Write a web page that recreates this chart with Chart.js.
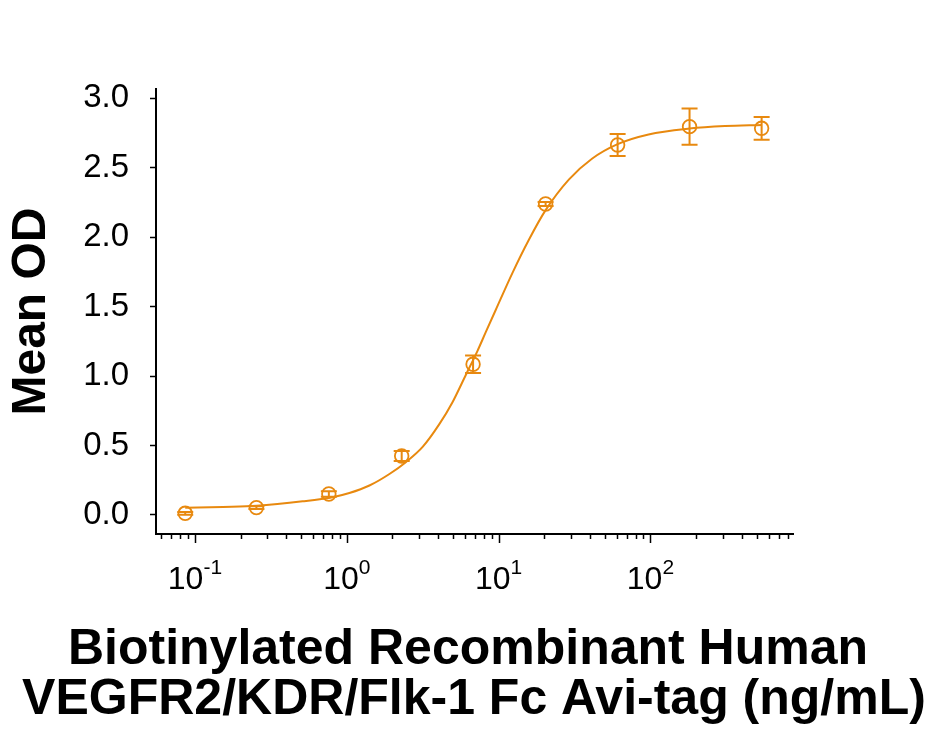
<!DOCTYPE html>
<html>
<head>
<meta charset="utf-8">
<script src="https://cdn.jsdelivr.net/npm/chart.js@4/dist/chart.umd.min.js"></script>
<style>
  html, body { margin: 0; padding: 0; background: #fff; }
  #wrap { width: 928px; height: 738px; }
</style>
</head>
<body>
<div id="wrap"><canvas id="chartData"></canvas></div>
<script>
// measured points (ng/mL vs mean OD)
const concentrations = [0.0863, 0.254, 0.762, 2.30, 6.79, 20.4, 60.8, 181, 540];
const meanOD = [0.012, 0.053, 0.151, 0.425, 1.085, 2.239, 2.664, 2.796, 2.784];
const errOD = [0.01, 0.01, 0.02, 0.036, 0.063, 0.015, 0.079, 0.13, 0.082];

// fitted curve
const curveX = [0.0863, 0.153, 0.255, 0.512, 0.806, 1.04, 1.41, 1.91, 2.46, 3.16, 4.06, 4.97, 6.08, 7.25, 8.23, 9.57, 12.3, 15.8, 20.4, 29.0, 41.2, 60.8, 97.2, 181, 310, 540];
const curveY = [0.052, 0.058, 0.066, 0.098, 0.128, 0.158, 0.212, 0.295, 0.382, 0.49, 0.652, 0.812, 1.008, 1.180, 1.316, 1.476, 1.74, 1.98, 2.195, 2.415, 2.565, 2.670, 2.740, 2.782, 2.800, 2.808];

const yTicks = [0, 0.5, 1.0, 1.5, 2.0, 2.5, 3.0];
const xMajor = [0.1, 1, 10, 100];
const xExponents = ['-1', '0', '1', '2'];
const xMinor = [0.06, 0.07, 0.08, 0.09, 0.2, 0.3, 0.4, 0.5, 0.6, 0.7, 0.8, 0.9,
    2, 3, 4, 5, 6, 7, 8, 9, 20, 30, 40, 50, 60, 70, 80, 90, 200, 300, 400, 500, 600, 700, 800];

const xTitle = ['Biotinylated Recombinant Human', 'VEGFR2/KDR/Flk-1 Fc Avi-tag (ng/mL)'];
const yTitle = 'Mean OD';

const orange = '#E8890F';
const fontFamily = '"Liberation Sans", Arial, sans-serif';
Chart.defaults.font.family = fontFamily;
Chart.defaults.color = '#000';

// x axis ticks + 10^n labels, error bars and the bottom title
const extras = {
    id: 'extras',
    afterDatasetsDraw(chart) {
        const ctx = chart.ctx;
        const xs = chart.scales.x;
        const ys = chart.scales.y;
        const base = chart.chartArea.bottom;

        ctx.save();
        ctx.strokeStyle = orange;
        ctx.lineWidth = 2;
        for (let i = 0; i < concentrations.length; i++) {
            let px = xs.getPixelForValue(concentrations[i]);
            let top = ys.getPixelForValue(meanOD[i] + errOD[i]);
            let bot = ys.getPixelForValue(meanOD[i] - errOD[i]);
            ctx.beginPath();
            ctx.moveTo(px, top); ctx.lineTo(px, bot);
            ctx.moveTo(px - 8, top); ctx.lineTo(px + 8, top);
            ctx.moveTo(px - 8, bot); ctx.lineTo(px + 8, bot);
            ctx.stroke();
        }
        ctx.restore();

        ctx.save();
        ctx.strokeStyle = '#000';
        ctx.lineWidth = 1.5;
        ctx.beginPath();
        xMinor.forEach(v => {
            let px = Math.round(xs.getPixelForValue(v)) + 0.5;
            ctx.moveTo(px, base); ctx.lineTo(px, base + 5);
        });
        xMajor.forEach(v => {
            let px = Math.round(xs.getPixelForValue(v)) + 0.5;
            ctx.moveTo(px, base); ctx.lineTo(px, base + 9);
        });
        ctx.stroke();

        ctx.fillStyle = '#000';
        ctx.textBaseline = 'alphabetic';
        ctx.textAlign = 'left';
        xMajor.forEach((v, i) => {
            let px = xs.getPixelForValue(v);
            ctx.font = '32px ' + fontFamily;
            let w1 = ctx.measureText('10').width;
            ctx.font = '21px ' + fontFamily;
            let w2 = ctx.measureText(xExponents[i]).width;
            let left = px - (w1 + w2) / 2;
            ctx.font = '32px ' + fontFamily;
            ctx.fillText('10', left, 589);
            ctx.font = '21px ' + fontFamily;
            ctx.fillText(xExponents[i], left + w1, 574);
        });

        // axis title under the x axis
        ctx.font = 'bold 50px ' + fontFamily;
        ctx.textAlign = 'center';
        ctx.textBaseline = 'middle';
        ctx.fillText(xTitle[0], 468, 650);
        ctx.fillText(xTitle[1], 474, 700);
        ctx.restore();
    }
};

new Chart(document.getElementById('chartData'), {
    type: 'scatter',
    data: {
        datasets: [{
            type: 'line',
            data: curveX.map((x, i) => ({ x: x, y: curveY[i] })),
            borderColor: orange,
            borderWidth: 2,
            pointRadius: 0,
            cubicInterpolationMode: 'monotone',
            fill: false
        }, {
            data: concentrations.map((x, i) => ({ x: x, y: meanOD[i] })),
            showLine: false,
            pointStyle: 'circle',
            pointRadius: 6.8,
            borderWidth: 1.8,
            borderColor: orange,
            backgroundColor: 'rgba(0,0,0,0)'
        }]
    },
    options: {
        responsive: true,
        maintainAspectRatio: false,
        animation: false,
        layout: { padding: { top: 89, right: 135, left: 0, bottom: 113 } },
        plugins: {
            legend: { display: false },
            tooltip: { enabled: false },
            title: { display: false }
        },
        scales: {
            x: {
                type: 'logarithmic',
                min: 0.0554,
                max: 869,
                grid: { display: false },
                border: { display: true, color: '#000', width: 2 },
                ticks: { display: false },
                afterFit: (scale) => { scale.height = 91; }
            },
            y: {
                min: -0.137,
                max: 3.067,
                afterBuildTicks: (scale) => { scale.ticks = yTicks.map(v => ({ value: v })); },
                grid: { drawOnChartArea: false, drawTicks: true, tickLength: 6, tickColor: '#000', tickWidth: 1.5 },
                border: { display: true, color: '#000', width: 2 },
                ticks: {
                    font: { size: 33 },
                    color: '#000',
                    padding: 21,
                    callback: (v) => Number(v).toFixed(1)
                },
                title: {
                    display: true,
                    text: yTitle,
                    color: '#000',
                    font: { size: 48, weight: 'bold' },
                    padding: { top: 3, bottom: 0 }
                },
                afterFit: (scale) => { scale.width = 156; }
            }
        }
    },
    plugins: [extras]
});
</script>
</body>
</html>
